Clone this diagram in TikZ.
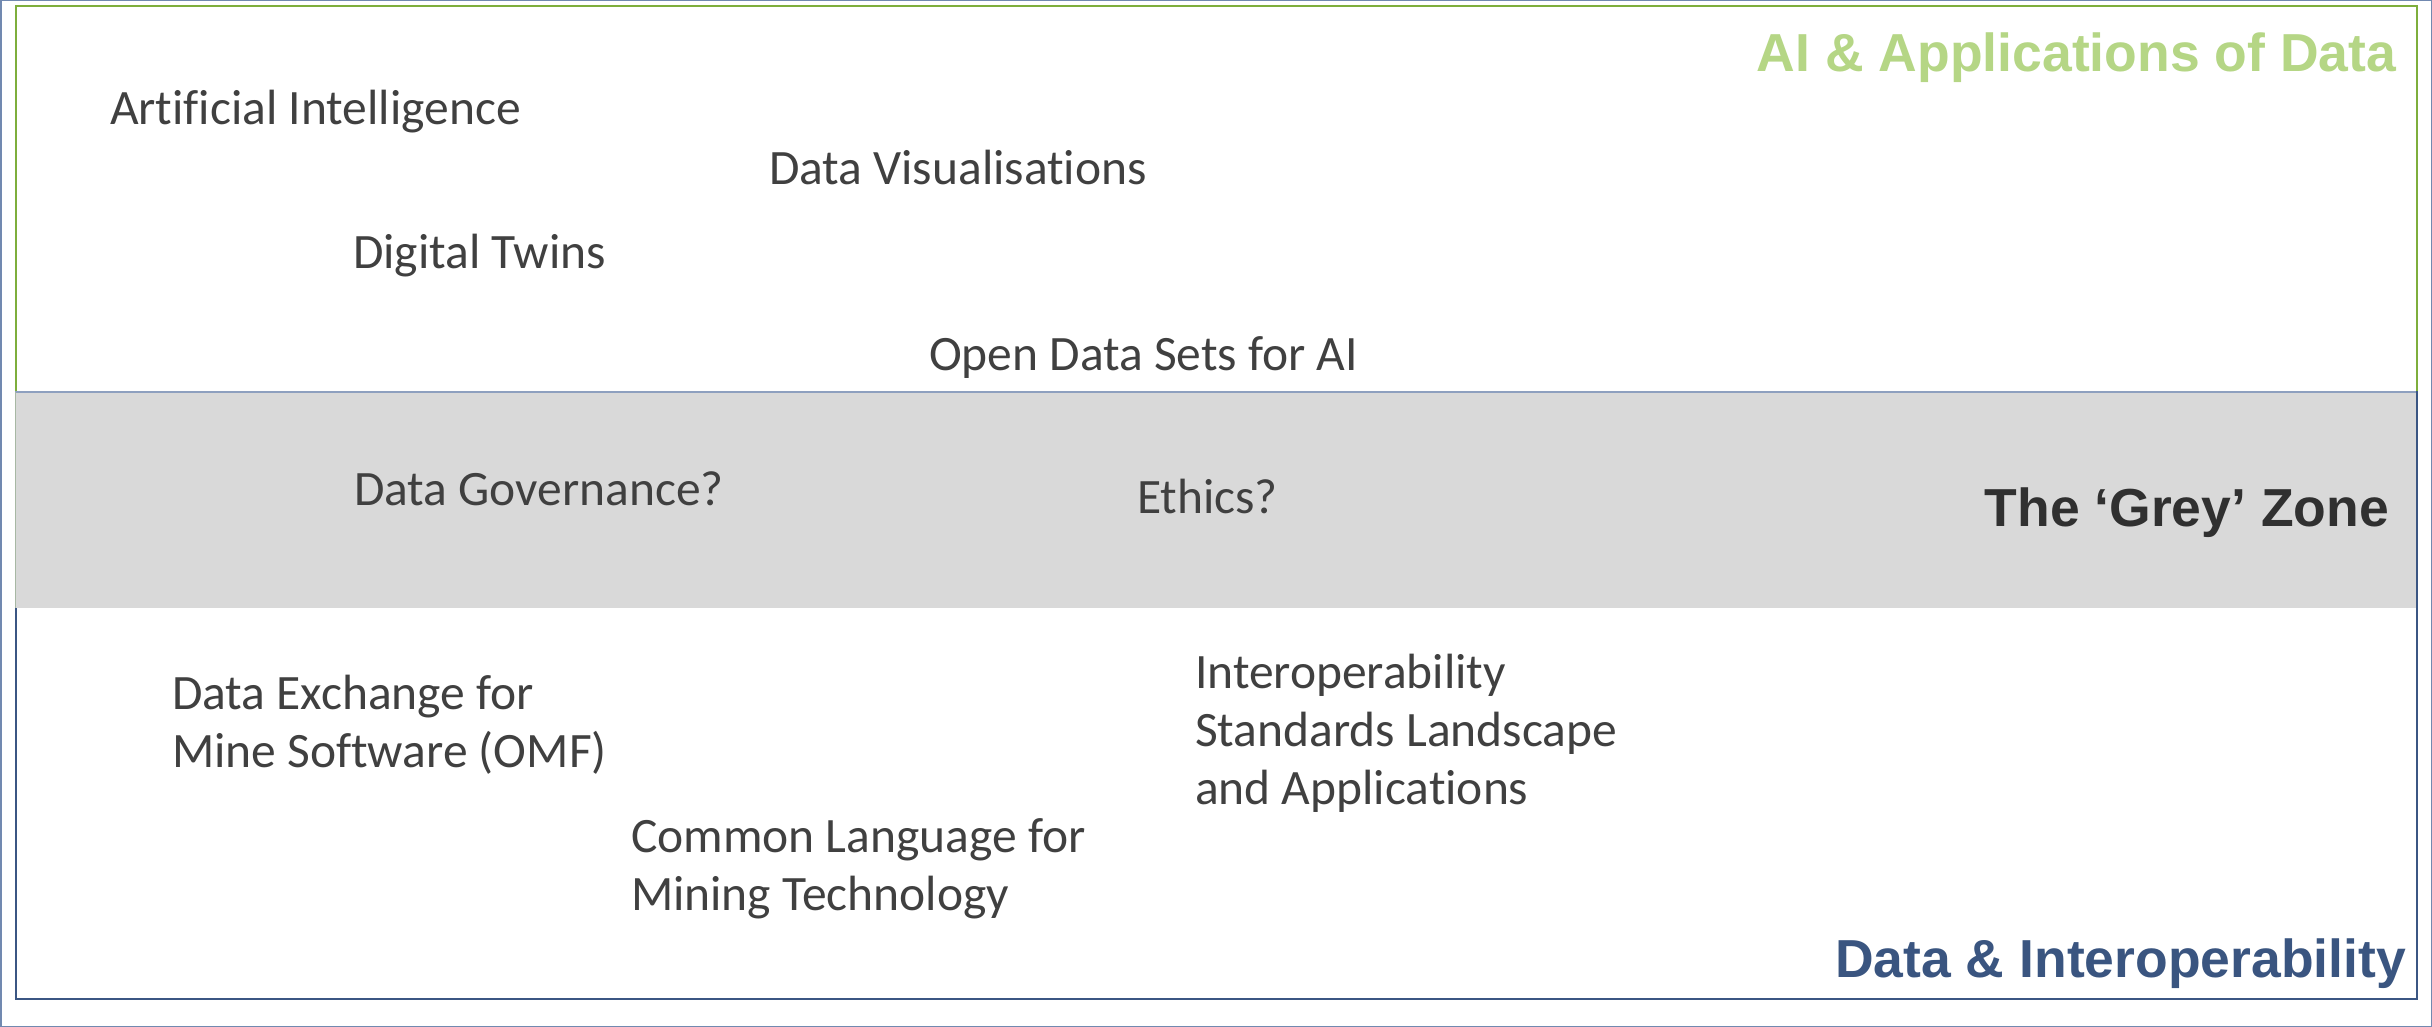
\documentclass[tikz,border=0pt]{standalone}
\usepackage{fontspec}
\setmainfont{Carlito}[Ligatures=NoCommon]
\newfontfamily\titlefont{Liberation Sans}
\definecolor{framec}{HTML}{7189B0}
\definecolor{greenline}{HTML}{7EAE3C}
\definecolor{greentext}{HTML}{B5D685}
\definecolor{blueline}{HTML}{3B5683}
\definecolor{bluetext}{HTML}{3A5580}
\definecolor{greyfill}{HTML}{D9D9D9}
\definecolor{greytop}{HTML}{8EA0BF}
\definecolor{greyleft}{HTML}{A8B8A4}
\definecolor{bodytext}{HTML}{404040}
\definecolor{zonetext}{HTML}{303030}
\tikzset{
  item/.style={inner sep=0pt, outer sep=0pt, anchor=base west, text=bodytext, font=\fontsize{49.5}{58}\selectfont, align=left},
  ttl/.style={inner sep=0pt, outer sep=0pt, anchor=base east, font=\titlefont\bfseries\fontsize{53.5}{60}\selectfont},
}
\begin{document}
\begin{tikzpicture}[x=1pt,y=-1pt]
\useasboundingbox (0,0) rectangle (2432,1027);
\fill[white] (0,0) rectangle (2432,1027);
% outer frame
\draw[framec, line width=1.5pt] (0.75,0.75) rectangle (2431.25,1026.25);
% green box
\draw[greenline, line width=2.5pt] (16,6) rectangle (2417,500);
% blue box
\draw[blueline, line width=2.5pt] (16,392) rectangle (2417,999);
% grey zone band
\fill[greyfill] (15,392) rectangle (2416,608);
\draw[greytop, line width=1.2pt] (15,392) -- (2416,392);
\draw[greyleft, line width=1pt] (15,392) -- (15,608);

% titles
\node[ttl, text=greentext] (ttlai) at (2396,72) {AI \& Applications of Data};
\node[ttl, text=zonetext] (ttlgrey) at (2389,526) {The ‘Grey’ Zone};
\node[ttl, text=bluetext] (ttldata) at (2406,977) {Data \& Interoperability};

% upper items
\node[item] (ai) at (110,125) {Artificial Intelligence};
\node[item] (vis) at (769,185) {Data Visualisations};
\node[item] (twins) at (353,268) {Digital Twins};
\node[item] (open) at (929,370) {Open Data Sets for AI};
% grey items
\node[item] (gov) at (354,505) {Data Governance?};
\node[item] (ethics) at (1137,513) {Ethics?};
% lower items (base anchor = baseline of last line)
\node[item] (omf) at (172,767) {Data Exchange for\\Mine Software (OMF)};
\node[item] (interop) at (1195,804) {Interoperability\\Standards Landscape\\and Applications};
\node[item] (lang) at (631,910) {Common Language for\\Mining Technology};
\end{tikzpicture}
\end{document}
